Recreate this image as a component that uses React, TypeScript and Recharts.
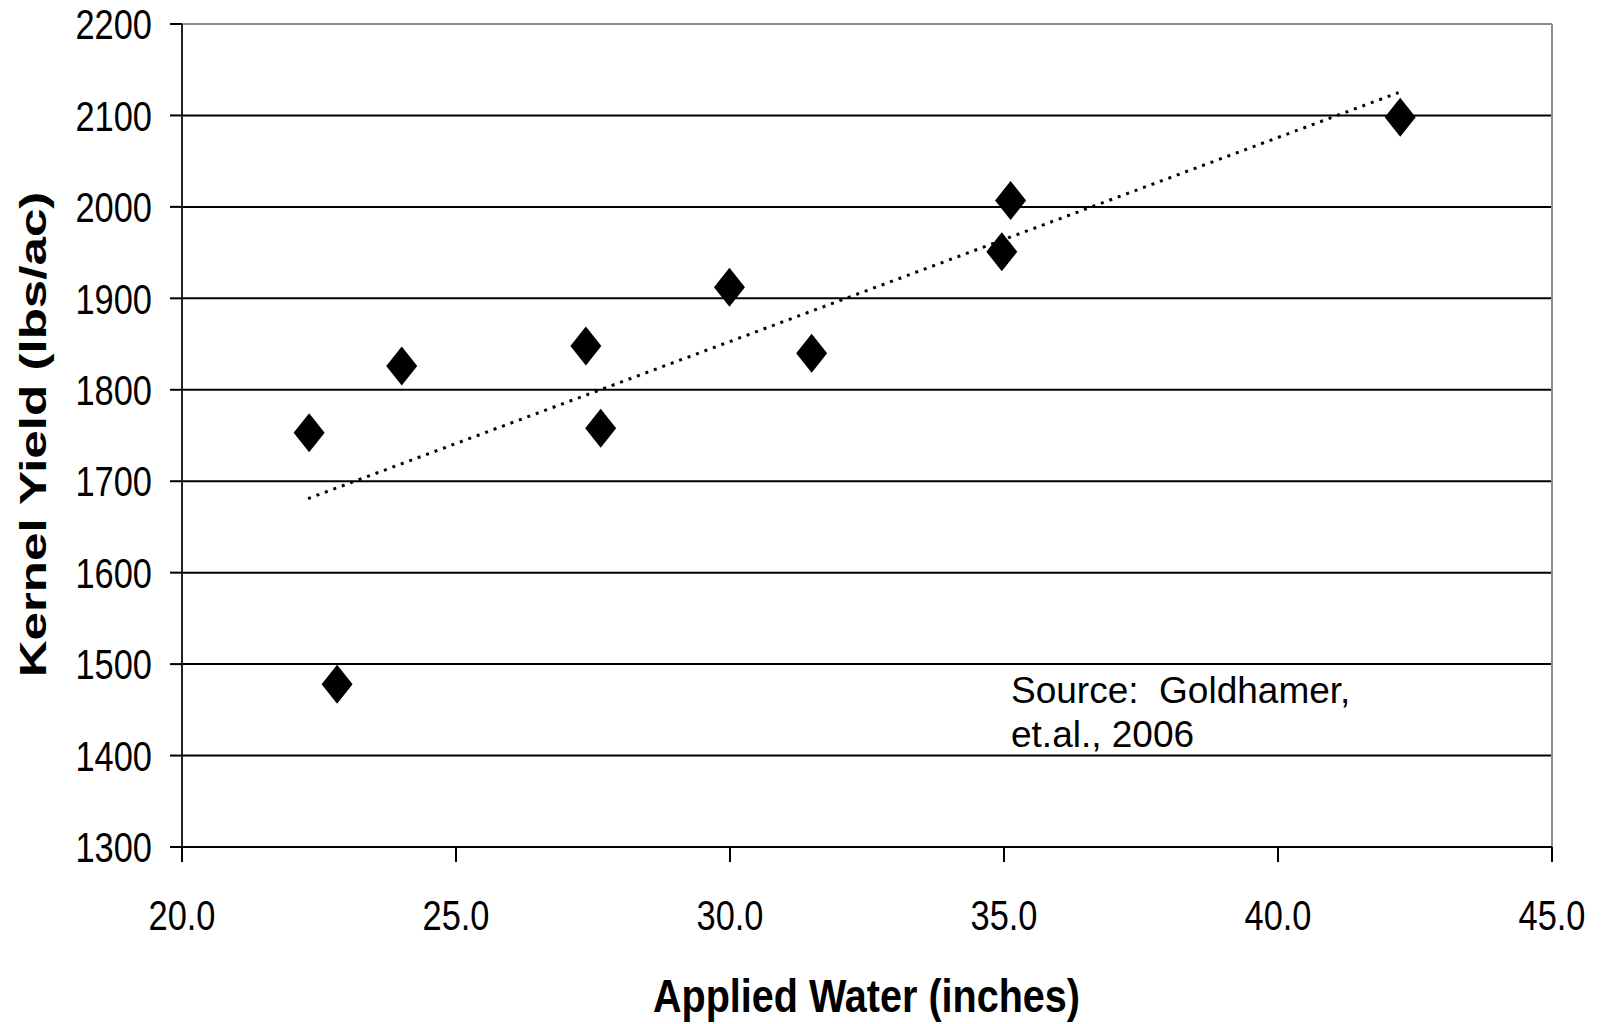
import { CartesianGrid, ReferenceLine, Scatter, ScatterChart, XAxis, YAxis } from "recharts";

// applied water (inches) vs kernel yield (lbs/ac)
const waterIn = [22.32, 22.83, 24.01, 27.37, 27.64, 29.99, 31.49, 34.96, 35.12, 42.23];
const yieldLbs = [1753, 1478, 1826, 1848, 1758, 1912, 1840, 1951, 2007, 2098];

// linear trendline end points as drawn
const trendWater = [22.3, 42.2];
const trendYield = [1681, 2125];

const xTicks = [20, 25, 30, 35, 40, 45];
const yTicks = [1300, 1400, 1500, 1600, 1700, 1800, 1900, 2000, 2100, 2200];

const xTitle = "Applied Water (inches)";
const yTitle = "Kernel Yield (lbs/ac)";
const sourceLines = ["Source:  Goldhamer,", "et.al., 2006"];

const points = waterIn.map((x, i) => ({ x, y: yieldLbs[i] }));
const trend = trendWater.map((x, i) => ({ x, y: trendYield[i] }));

const FONT = '"Liberation Sans", Arial, sans-serif';

function Diamond(props: any) {
  const { cx, cy } = props;
  if (cx == null || cy == null) return <g />;
  return (
    <polygon
      points={`${cx},${cy - 19.5} ${cx + 15.5},${cy} ${cx},${cy + 19.5} ${cx - 15.5},${cy}`}
      fill="#000"
    />
  );
}

function NoDot() {
  return <g />;
}

function XTick(props: any) {
  const { x, y, payload } = props;
  return (
    <g transform={`translate(${x},${y}) scale(0.8,1)`}>
      <text textAnchor="middle" dy="0.71em" fontSize={43} fontFamily={FONT} fill="#000">
        {Number(payload.value).toFixed(1)}
      </text>
    </g>
  );
}

function YTick(props: any) {
  const { x, y, payload } = props;
  return (
    <g transform={`translate(${x},${y}) scale(0.8,1)`}>
      <text textAnchor="end" dy="0.355em" fontSize={43} fontFamily={FONT} fill="#000">
        {payload.value}
      </text>
    </g>
  );
}

export default function App() {
  return (
    <div style={{ position: "absolute", left: 0, top: 0, width: 1604, height: 1024, background: "#fff" }}>
      <ScatterChart width={1604} height={1024} margin={{ top: 24, right: 52, bottom: 0, left: 0 }}>
        <CartesianGrid vertical={false} stroke="#000" strokeWidth={2} />
        <XAxis
          type="number"
          dataKey="x"
          domain={[20, 45]}
          ticks={xTicks}
          height={177}
          tickSize={15}
          tickMargin={37}
          axisLine={{ stroke: "#000", strokeWidth: 2 }}
          tickLine={{ stroke: "#000", strokeWidth: 2 }}
          tick={<XTick />}
        />
        <YAxis
          type="number"
          dataKey="y"
          domain={[1300, 2200]}
          ticks={yTicks}
          width={182}
          tickSize={12}
          tickMargin={18}
          axisLine={{ stroke: "#222", strokeWidth: 2 }}
          tickLine={{ stroke: "#000", strokeWidth: 2 }}
          tick={<YTick />}
        />
        <ReferenceLine y={2200} stroke="#8c8c8c" strokeWidth={2} />
        <ReferenceLine x={45} stroke="#8c8c8c" strokeWidth={2} />
        <Scatter
          data={trend}
          line={{ stroke: "#000", strokeWidth: 3, strokeDasharray: "3 6" }}
          shape={NoDot}
          isAnimationActive={false}
        />
        <Scatter data={points} shape={Diamond} isAnimationActive={false} />
      </ScatterChart>
      <svg
        width={1604}
        height={1024}
        style={{ position: "absolute", left: 0, top: 0, pointerEvents: "none" }}
      >
        <g transform="translate(866.5,1012) scale(0.86,1)">
          <text textAnchor="middle" fontSize={46} fontWeight="bold" fontFamily={FONT} fill="#000">
            {xTitle}
          </text>
        </g>
        <g transform="translate(46,434.5) rotate(-90) scale(1.42,1)">
          <text textAnchor="middle" fontSize={36} fontWeight="bold" fontFamily={FONT} fill="#000">
            {yTitle}
          </text>
        </g>
        {sourceLines.map((line, i) => (
          <text
            key={line}
            x={1011}
            y={703 + i * 44}
            fontSize={37}
            fontFamily={FONT}
            fill="#000"
            style={{ whiteSpace: "pre" }}
          >
            {line}
          </text>
        ))}
      </svg>
    </div>
  );
}
